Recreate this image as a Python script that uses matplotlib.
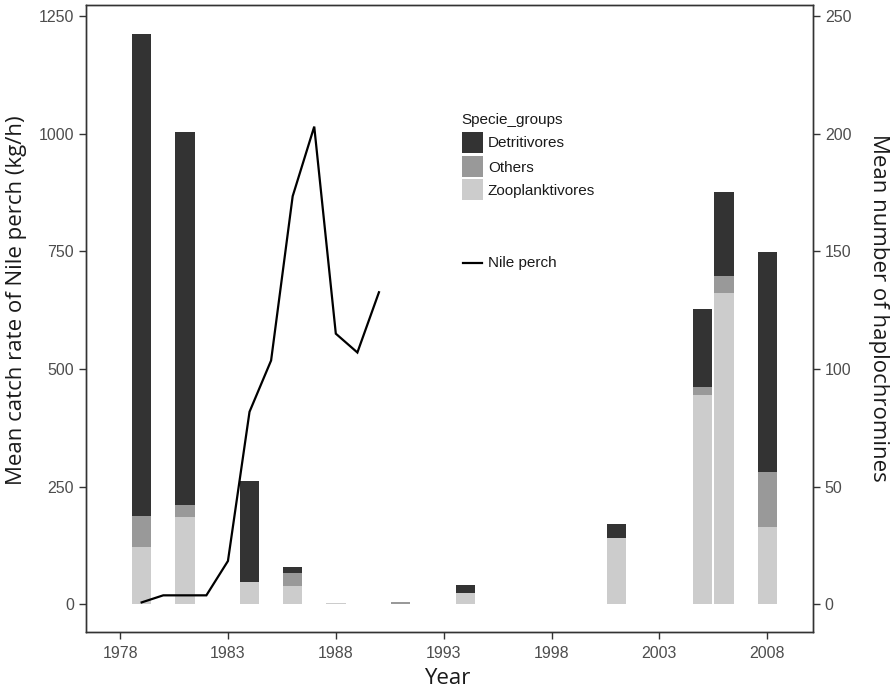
import matplotlib
matplotlib.use("Agg")
import matplotlib.pyplot as plt
from matplotlib.patches import Rectangle
from matplotlib.lines import Line2D
import numpy as np

# ---- data ----
bar_years = [1979, 1981, 1984, 1986, 1988, 1991, 1994, 2001, 2005, 2006, 2008]
zooplanktivores = [24.2, 37.2, 9.3, 7.9, 0.5, 0.0, 4.9, 28.3, 89.0, 132.1, 33.0]
others = [13.4, 5.0, 0.0, 5.5, 0.0, 0.9, 0.0, 0.0, 3.5, 7.4, 23.1]
detritivores = [204.7, 158.4, 43.1, 2.6, 0.0, 0.0, 3.3, 5.7, 33.0, 35.5, 93.5]

perch_years = [1979, 1980, 1981, 1982, 1983, 1984, 1985, 1986, 1987, 1988, 1989, 1990]
perch_catch = [4, 19, 19, 19, 92, 409, 518, 867, 1015, 575, 535, 663]

x_ticks = [1978, 1983, 1988, 1993, 1998, 2003, 2008]
left_ticks = [0, 250, 500, 750, 1000, 1250]
right_ticks = [0, 50, 100, 150, 200, 250]

group_names = ["Detritivores", "Others", "Zooplanktivores"]
group_colors = ["#333333", "#999999", "#cccccc"]

W, H = 894, 690
fig = plt.figure(figsize=(W / 100, H / 100), dpi=100)
L, R, T, B = 86, 813, 4.7, 632
ax = fig.add_axes([L / W, 1 - B / H, (R - L) / W, (B - T) / H])
ax2 = ax.twinx()

ylim_left = (-58.9, 1274)
ax.set_ylim(*ylim_left)
ax2.set_ylim(ylim_left[0] / 5, ylim_left[1] / 5)
ax.set_xlim(1976.42, 2010.12)

# bars (right axis: haplochromines)
zoo = np.array(zooplanktivores)
oth = np.array(others)
det = np.array(detritivores)
ax2.bar(bar_years, zoo, width=0.9, color=group_colors[2], linewidth=0)
ax2.bar(bar_years, oth, width=0.9, bottom=zoo, color=group_colors[1], linewidth=0)
ax2.bar(bar_years, det, width=0.9, bottom=zoo + oth, color=group_colors[0], linewidth=0)

# line (left axis)
ax.plot(perch_years, perch_catch, color="black", lw=1.6, solid_joinstyle="miter")
ax.set_zorder(ax2.get_zorder() + 1)
ax.patch.set_visible(False)

tick_font = dict(family=["Liberation Sans", "DejaVu Sans"], size=11.5)
for a in (ax, ax2):
    for s in a.spines.values():
        s.set_color("#333333")
        s.set_linewidth(1.0)
    a.tick_params(direction="out", length=5, width=1.0, color="#333333",
                  labelcolor="#4d4d4d", labelsize=11.5)
ax.set_xticks(x_ticks)
ax.set_xticklabels([str(v) for v in x_ticks], fontdict=tick_font)
ax.set_yticks(left_ticks)
ax.set_yticklabels([str(v) for v in left_ticks], fontdict=tick_font)
ax2.set_yticks(right_ticks)
ax2.set_yticklabels([str(v) for v in right_ticks], fontdict=tick_font)
ax.tick_params(axis="x", pad=5)

title_font = ["Open Sans", "DejaVu Sans"]
fig.text(17 / W, 1 - 300 / H, "Mean catch rate of Nile perch (kg/h)", rotation=90,
         ha="center", va="center", family=title_font, size=16, color="#1a1a1a")
fig.text(879 / W, 1 - 308 / H, "Mean number of haplochromines", rotation=270,
         ha="center", va="center", family=title_font, size=16, color="#1a1a1a")
fig.text(447 / W, 1 - 679 / H, "Year", ha="center", va="center",
         family=title_font, size=16, color="#1a1a1a")

# legend (drawn manually in figure pixels)
def fx(px):
    return px / W

def fy(py):
    return 1 - py / H

leg_font = dict(family=["Liberation Sans", "DejaVu Sans"], size=11, color="#1a1a1a")
fig.text(fx(461), fy(120), "Specie_groups", ha="left", va="center", **leg_font)
key_tops = [131.7, 156, 179]
for name, col, top in zip(group_names, group_colors, key_tops):
    fig.add_artist(Rectangle((fx(462), fy(top + 21)), 21 / W, 21 / H,
                             transform=fig.transFigure, facecolor=col,
                             edgecolor="none"))
    fig.text(fx(488), fy(top + 11.5), name, ha="left", va="center", **leg_font)
fig.add_artist(Line2D([fx(463), fx(482)], [fy(263.3), fy(263.3)],
                      transform=fig.transFigure, color="black", lw=1.6))
fig.text(fx(488), fy(263.3), "Nile perch", ha="left", va="center", **leg_font)

fig.savefig("out.png", dpi=100)
